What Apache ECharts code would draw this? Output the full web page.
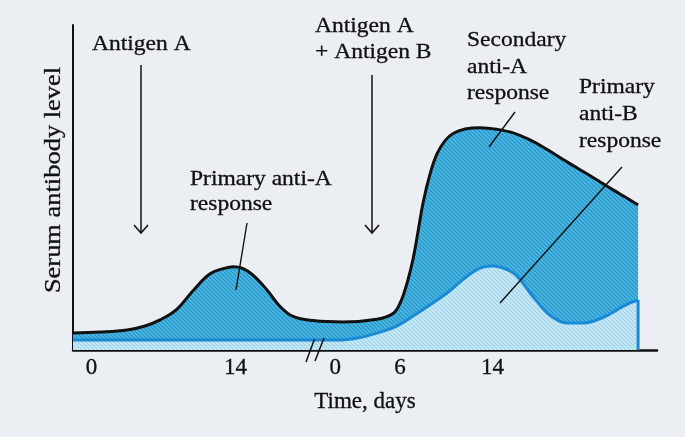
<!DOCTYPE html>
<html>
<head>
<meta charset="utf-8">
<script src="https://cdn.jsdelivr.net/npm/echarts@6/dist/echarts.min.js"></script>
<style>
html,body{margin:0;padding:0;background:#ebeff3;}
#c{width:685px;height:437px;}
</style>
</head>
<body>
<div id="c"></div>
<script>
// ---- data (x in axis units, y in relative antibody level) ----
const tickValues = [0, 14, 23.7, 30, 39];
const tickLabels = ['0', '14', '0', '6', '14'];

// total anti-A antibody level (black curve)
const totalX = [-1.8, 0.83, 3.45, 5.2, 6.66, 8.32, 9.87, 11.53, 12.9, 13.8, 14.7, 15.71, 17.07, 18.34, 19.6, 21.55, 24.47, 27.77, 29.33, 30.01, 30.69, 31.28, 31.76, 32.25, 32.93, 33.61, 34.39, 35.17, 36.33, 37.79, 39.45, 41.01, 42.65, 44.32, 45.87, 47.52, 49.17, 50.73, 51.9, 53.16];
const totalY = [5.3, 5.6, 6.25, 7.5, 9.4, 12.8, 18.5, 23.8, 25.5, 26.0, 25.5, 23.4, 18.75, 13.6, 10.5, 9.2, 8.75, 9.6, 11.4, 14.6, 20.9, 28.5, 37.0, 46.0, 55.0, 61.3, 65.4, 67.6, 69.0, 69.4, 68.9, 67.8, 65.6, 62.6, 59.5, 56.3, 53.1, 50.0, 47.8, 45.3];

// primary anti-B antibody level (blue curve)
const antiBX = [-1.8, 5.69, 15.42, 23.88, 26.12, 28.06, 29.52, 31.28, 32.93, 34.58, 35.85, 37.11, 38.08, 39.06, 40.03, 41.0, 41.88, 42.65, 43.53, 44.31, 45.28, 46.26, 47.71, 49.17, 50.44, 51.41, 52.38, 53.16];
const antiBY = [3.1, 3.1, 3.1, 3.1, 3.9, 5.6, 7.2, 10.6, 14.1, 17.8, 21.25, 24.4, 25.9, 26.25, 25.6, 24.1, 21.25, 17.8, 14.4, 11.6, 9.4, 8.4, 8.4, 9.4, 11.25, 13.1, 14.7, 15.6];

const zip = (xs, ys) => xs.map((x, i) => [x, ys[i]]);

function hatch(bg, fg, size, w) {
  const c = document.createElement('canvas');
  c.width = size; c.height = size;
  const g = c.getContext('2d');
  g.fillStyle = bg; g.fillRect(0, 0, size, size);
  g.strokeStyle = fg; g.lineWidth = w;
  g.beginPath();
  g.moveTo(-1, -1); g.lineTo(size + 1, size + 1);
  g.moveTo(-1, size - 1); g.lineTo(1, size + 1);
  g.moveTo(size - 1, -1); g.lineTo(size + 1, 1);
  g.stroke();
  return c;
}
const darkPat = { image: hatch('#4dbde8', '#2b94c6', 4, 1.3), repeat: 'repeat' };
const lightPat = { image: hatch('#cbeaf5', '#9ad3e9', 4, 1.1), repeat: 'repeat' };

const chart = echarts.init(document.getElementById('c'), null, { renderer: 'canvas' });
const FONT = 'Liberation Serif';
const ink = '#111';
const blue = '#1a8ad6';

function label(text, x, baseline, size) {
  const fs = size || 21;
  return {
    type: 'text', x: x, y: baseline - fs * 0.33, scaleX: 1.12, z: 10,
    style: { text: text, fontFamily: FONT, fontSize: fs, fill: ink, stroke: ink, lineWidth: 0.3, align: 'left', verticalAlign: 'middle' }
  };
}
function seg(x1, y1, x2, y2, w) {
  return { type: 'line', z: 10, shape: { x1, y1, x2, y2 }, style: { stroke: ink, lineWidth: w || 1.4 } };
}
function head(x, y) {
  return { type: 'polyline', z: 10, shape: { points: [[x - 7, y - 8], [x, y], [x + 7, y - 8]] }, style: { stroke: ink, lineWidth: 1.5, fill: null } };
}

const last = antiBX.length - 1;

chart.setOption({
  backgroundColor: '#ebeff3',
  animation: false,
  grid: { left: 73, right: 28, top: 25, bottom: 87 },
  xAxis: {
    type: 'value', min: -1.8, max: 55,
    name: 'Time, days', nameLocation: 'middle', nameGap: 40,
    nameTextStyle: { fontFamily: FONT, fontSize: 23, color: ink, textBorderColor: ink, textBorderWidth: 0.3 },
    axisLine: { show: true, onZero: false, lineStyle: { color: ink, width: 2.5 } },
    axisTick: { show: true, inside: true, length: 11, customValues: tickValues, lineStyle: { color: ink, width: 2 } },
    axisLabel: {
      show: true, customValues: tickValues, margin: 6,
      fontFamily: FONT, fontSize: 23, color: ink, textBorderColor: ink, textBorderWidth: 0.3,
      formatter: function (v) {
        const i = tickValues.findIndex(t => Math.abs(t - v) < 1e-6);
        return i >= 0 ? tickLabels[i] : '';
      }
    },
    splitLine: { show: false }
  },
  yAxis: {
    type: 'value', min: 0, max: 101.5,
    axisLine: { show: true, onZero: false, lineStyle: { color: ink, width: 2 } },
    axisTick: { show: false }, axisLabel: { show: false }, splitLine: { show: false }
  },
  series: [
    {
      name: 'Anti-A response', type: 'line', data: zip(totalX, totalY),
      smooth: 0.4, symbol: 'none', z: 2,
      lineStyle: { color: ink, width: 3 },
      areaStyle: { color: darkPat, opacity: 1 }
    },
    {
      name: 'Primary anti-B response', type: 'line', data: zip(antiBX, antiBY),
      smooth: 0.4, symbol: 'none', z: 3,
      lineStyle: { color: blue, width: 3 },
      areaStyle: { color: lightPat, opacity: 1 }
    },
    {
      name: 'anti-B end', type: 'line', data: [[antiBX[last], antiBY[last]], [antiBX[last], 0]],
      symbol: 'none', z: 4, lineStyle: { color: blue, width: 3 }
    }
  ],
  graphic: [
    {
      type: 'text', x: 54, y: 180, rotation: Math.PI / 2, scaleX: 1.15, z: 10,
      style: { text: 'Serum antibody level', fontFamily: FONT, fontSize: 23, fill: ink, stroke: ink, lineWidth: 0.3, align: 'center', verticalAlign: 'middle' }
    },
    label('Antigen A', 92, 51),
    label('Antigen A', 315, 33),
    label('+ Antigen B', 315, 59),
    label('Secondary', 467, 47),
    label('anti-A', 467, 74),
    label('response', 467, 100),
    label('Primary', 579, 94),
    label('anti-B', 579, 121),
    label('response', 579, 148),
    label('Primary anti-A', 190, 186),
    label('response', 190, 211),
    seg(141, 65, 141, 232, 1.5), head(141, 233),
    seg(372, 75, 372, 232, 1.5), head(372, 233),
    seg(247, 223, 236, 290),
    seg(515, 112, 489, 147),
    seg(622, 167, 500, 303),
    seg(314.5, 339, 306, 362, 1.5),
    seg(324, 338, 315, 361, 1.5)
  ]
});
</script>
</body>
</html>
